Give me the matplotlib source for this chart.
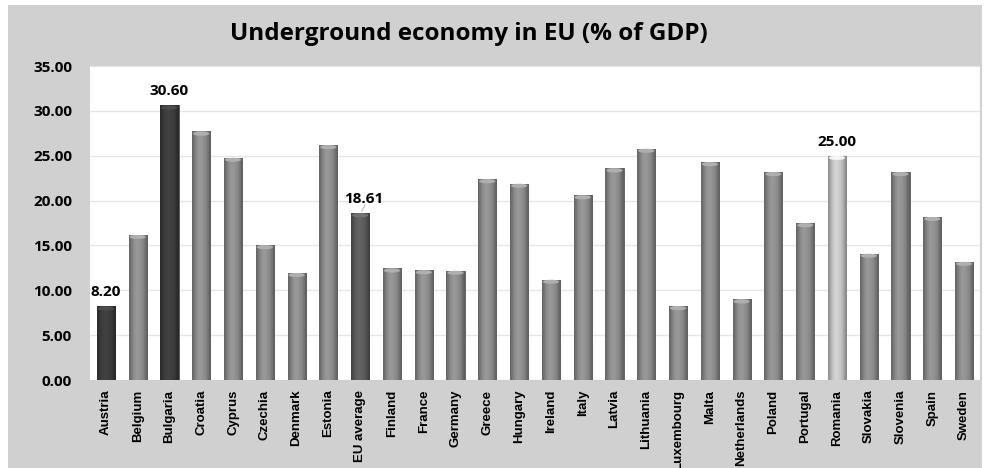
import matplotlib.pyplot as plt
import matplotlib.patches as mpatches
import numpy as np

countries = ["Austria", "Belgium", "Bulgaria", "Croatia", "Cyprus", "Czechia", "Denmark",
             "Estonia", "EU average", "Finland", "France", "Germany", "Greece", "Hungary",
             "Ireland", "Italy", "Latvia", "Lithuania", "Luxembourg", "Malta", "Netherlands",
             "Poland", "Portugal", "Romania", "Slovakia", "Slovenia", "Spain", "Sweden"]
values = [8.20, 16.2, 30.60, 27.7, 24.8, 15.05, 11.95, 26.2, 18.61, 12.45, 12.25, 12.2,
          22.4, 21.9, 11.2, 20.6, 23.6, 25.8, 8.25, 24.3, 9.0, 23.2, 17.5, 25.00,
          14.1, 23.2, 18.2, 13.2]
labelled = {"Austria": "8.20", "Bulgaria": "30.60", "EU average": "18.61", "Romania": "25.00"}

colors = []
for c in countries:
    if c in ("Austria", "Bulgaria"):
        colors.append("#3c3c3c")
    elif c == "EU average":
        colors.append("#5c5c5c")
    elif c == "Romania":
        colors.append("#c4c4c4")
    else:
        colors.append("#8c8c8c")

fig = plt.figure(figsize=(9.84, 4.68), dpi=100)
fig.patch.set_facecolor("white")
# gray chart frame
frame = mpatches.Rectangle((8 / 984, 0), 974 / 984, 463 / 468,
                           transform=fig.transFigure, facecolor="#d0d0d0",
                           edgecolor="none", zorder=-5)
fig.patches.append(frame)

ax = fig.add_axes([90 / 984, 88 / 468, 890 / 984, 314 / 468])
ax.set_zorder(1)
ax.set_facecolor("white")
x = np.arange(len(countries))
bars = ax.bar(x, values, width=0.57, color=colors, edgecolor="#555555", linewidth=0.6,
              zorder=3)

# shade each bar like a cylinder
grad = np.array([0.7, 0.9, 1.0, 1.05, 1.0, 0.95, 0.85, 0.65]).reshape(1, -1)
for b, col in zip(bars, colors):
    rgb = np.array(plt.matplotlib.colors.to_rgb(col))
    img = np.clip(grad[..., None] * rgb * 1.05, 0, 1)
    x0, w, h = b.get_x(), b.get_width(), b.get_height()
    im = ax.imshow(img, extent=(x0, x0 + w, 0, h), aspect="auto", zorder=4,
                   interpolation="bicubic")
    im.set_clip_path(b)
    top = mpatches.Ellipse((x0 + w / 2, h - 0.25), w * 0.9, 0.45,
                           facecolor=np.clip(rgb * 1.25, 0, 1), edgecolor="none", zorder=5)
    ax.add_patch(top)

ax.set_xlim(-0.5, len(countries) - 0.5)
ax.set_ylim(0, 35)
ax.set_yticks(np.arange(0, 35.1, 5))
ax.set_yticklabels([f"{v:.2f}" for v in np.arange(0, 35.1, 5)], fontsize=11,
                   fontweight="bold", family="Open Sans")
ax.set_xticks(x)
ax.set_xticklabels(countries, rotation=90, fontsize=9.5, fontweight="bold",
                   family="Liberation Sans")
ax.tick_params(length=0)
ax.tick_params(axis="x", pad=7)
ax.tick_params(axis="y", pad=13)
ax.grid(axis="y", color="#e6e6e6", linewidth=1, zorder=0)
for s in ax.spines.values():
    s.set_visible(False)

for i, c in enumerate(countries):
    if c in labelled:
        dx = 0
        if c == "EU average":
            ax.plot([i + 0.05, i + 0.15], [values[i] + 0.2, values[i] + 0.9],
                    color="#bbbbbb", lw=0.8, zorder=6)
            dx = 0.1
        ax.text(i + dx, values[i] + 0.8, labelled[c], ha="center", va="bottom",
                fontsize=11, fontweight="bold", family="Open Sans", zorder=6)

fig.text(0.476, 0.928, "Underground economy in EU (% of GDP)", ha="center", va="center",
         fontsize=17.5, fontweight="bold", family="Open Sans")

fig.savefig("out.png", dpi=100)
